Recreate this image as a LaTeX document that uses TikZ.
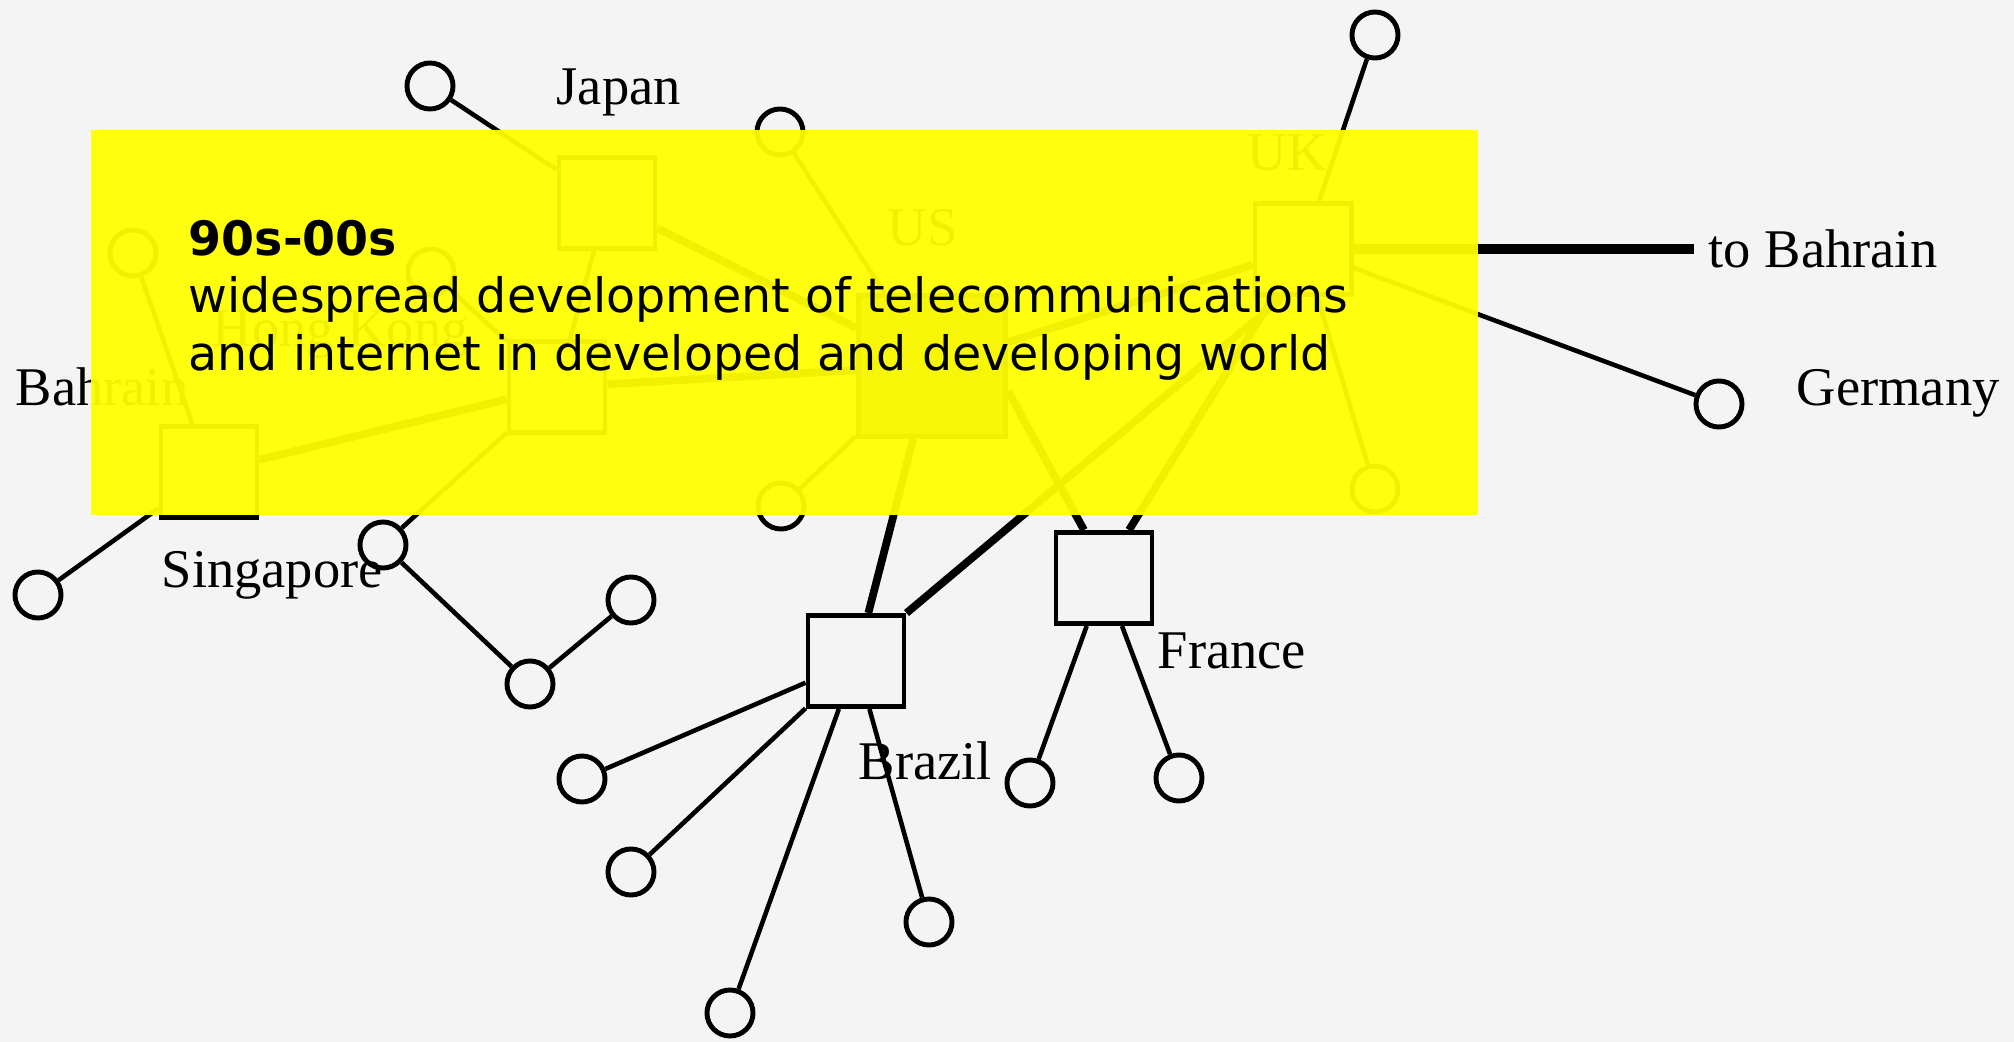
\documentclass[tikz,border=0pt]{standalone}
\usepackage{fontspec}
\setmainfont{Liberation Serif}
\newfontfamily\capfont{DejaVu Sans}

\definecolor{paper}{RGB}{244,244,244}
\definecolor{hilite}{RGB}{255,255,0}

\tikzset{
  hub/.style={draw, line width=1.4pt, minimum width=0.96cm, minimum height=0.91cm, inner sep=0pt},
  leaf/.style={draw, circle, line width=1.4pt, minimum size=0.46cm, inner sep=0pt},
  spoke/.style={line width=1.3pt},
  trunk/.style={line width=2.2pt},
  lbl/.style={font=\fontsize{15.5}{18}\selectfont, inner sep=0pt},
  boxtxt/.style={font=\capfont\fontsize{13.5}{16}\selectfont, inner sep=0pt},
}

\begin{document}
\begin{tikzpicture}[x=0.01cm, y=-0.01cm]

\useasboundingbox (0,0) rectangle (2014,1042);
\fill[paper] (0,0) rectangle (2014,1042);

% hubs
\node[hub] (japan) at (607,203) {};
\node[hub] (hk) at (557,387) {};
\node[hub] (bahrain) at (209,472) {};
\node[hub, minimum width=1.47cm, minimum height=1.41cm, fill=black!60] (us) at (932,366) {};
\node[hub] (uk) at (1303,249) {};
\node[hub] (brazil) at (856,661) {};
\node[hub] (france) at (1104,578) {};

% end points
\foreach \n/\x/\y in {c1/430/86, c2/780/132, c3/1375/35, c4/133/253, c5/431/272,
    c6/781/506, c7/1375/489, c8/38/595, c9/383/545, c10/530/684, c11/631/600,
    c12/582/779, c13/631/872, c14/730/1013, c15/929/922, c16/1030/783,
    c17/1179/778, c18/1719/404}
  \node[leaf] (\n) at (\x,\y) {};

% thin links
\foreach \a/\b in {c1/japan, c2/us, c3/uk, c4/bahrain, c5/hk, c6/us, c7/uk,
    c8/bahrain, c9/hk, c9/c10, c10/c11, c12/brazil, c13/brazil, c14/brazil,
    c15/brazil, c16/france, c17/france, c18/uk, japan/hk}
  \draw[spoke] (\a) -- (\b);

% heavy links
\foreach \a/\b in {japan/us, hk/us, bahrain/hk, us/brazil, uk/us}
  \draw[trunk] (\a) -- (\b);
\draw[trunk] ([xshift=-0.2cm]uk.south) -- (brazil.north east);
\draw[trunk] ([yshift=-0.25cm]us.east) -- ([xshift=-0.2cm]france.north);
\draw[trunk] (uk) -- ([xshift=0.25cm]france.north);

\node[lbl, anchor=base west] (tobahrain) at (1708,267) {to Bahrain};
\coordinate (bahend) at (1694,249);
\draw[line width=2.8pt] (uk.east) -- (bahend);

% country names
\node[lbl, anchor=base west] (japanlbl) at (556,104) {Japan};
\node[lbl, anchor=base west] (hklbl) at (212,346) {Hong Kong};
\node[lbl, anchor=base west] (bahrainlbl) at (15,405) {Bahrain};
\node[lbl, anchor=base west] (singlbl) at (161,587) {Singapore};
\node[lbl, anchor=base west] (uslbl) at (887,245) {US};
\node[lbl, anchor=base west] (uklbl) at (1247,170) {UK};
\node[lbl, anchor=base west] (brazillbl) at (858,779) {Brazil};
\node[lbl, anchor=base west] (francelbl) at (1157,668) {France};
\node[lbl, anchor=base west] (germanylbl) at (1796,405) {Germany};

% caption panel
\fill[hilite, fill opacity=0.94] (91,130) rectangle (1478,515);
\node[boxtxt, font=\capfont\bfseries\fontsize{13.5}{16}\selectfont, anchor=base west] (era) at (188,255) {90s-00s};
\node[boxtxt, anchor=base west] (line1) at (188,312) {widespread development of telecommunications};
\node[boxtxt, anchor=base west] (line2) at (188,370) {and internet in developed and developing world};

\end{tikzpicture}
\end{document}
